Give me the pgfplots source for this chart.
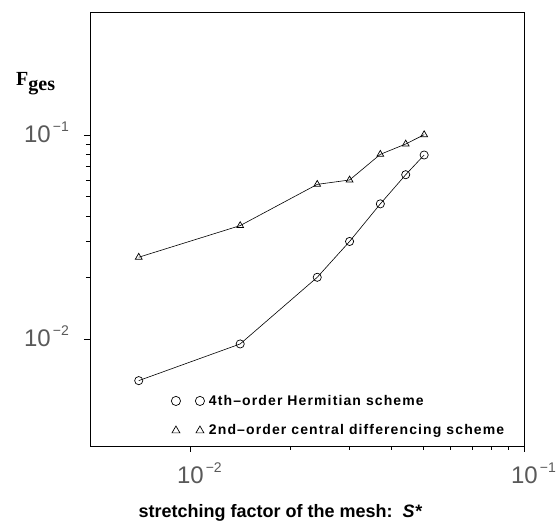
\documentclass[border=0pt]{standalone}
\usepackage{pgfplots}
\pgfplotsset{compat=1.18}
\usepackage{fontspec}
\setmainfont{Liberation Sans}
\newfontfamily\titleserif{Liberation Serif}
\newfontfamily\legendfont{Liberation Sans}[LetterSpace=8]

% light, large tick labels of the form 10^{-n}
\newcommand\tickfont{\fontsize{24}{24}\selectfont\color{black!65}}
\newcommand\expo[1]{\hspace{2pt}\raisebox{11pt}{\fontsize{14}{14}\selectfont −#1}}

\begin{document}
\begin{tikzpicture}
\begin{axis}[
  xmode=log, ymode=log,
  scale only axis, width=434pt, height=434pt,
  xmin=0.005, xmax=0.1, ymin=0.003, ymax=0.4,
  clip=false,
  axis line style={line width=0.9pt},
  tick align=outside, xtick pos=lower, ytick pos=left,
  major tick length=6pt, minor tick length=4pt,
  every tick/.style={black, line width=0.8pt},
  xtick={0.01,0.1}, ytick={0.01,0.1},
  xticklabels={{\mbox{\tickfont 10\rlap{\expo{2}}}},{\mbox{\tickfont\hspace*{1pt}10\rlap{\expo{1}}}}},
  yticklabels={{\mbox{\tickfont 10\expo{2}}},{\mbox{\tickfont 10\expo{1}}}},
  xticklabel style={anchor=base, inner sep=0pt, yshift=-32pt},
  yticklabel style={anchor=base east, inner sep=0pt, xshift=-15pt, yshift=-7.7pt},
  xlabel={\fontsize{18}{20}\selectfont\bfseries stretching factor of the mesh:\hspace{10pt}\textit{S*}},
  xlabel style={at={(axis description cs:0.439,0)}, anchor=base, yshift=-71pt, inner sep=0pt},
  legend style={at={(axis description cs:0.187,0.120)}, anchor=north west,
    draw=none, fill=none, inner sep=0pt, row sep=16pt,
    font=\legendfont\bfseries\fontsize{14}{16}\selectfont,
    nodes={inner sep=1pt},
    /tikz/every odd column/.style={column sep=3pt}},
  legend cell align=left,
  % two separate marks, no connecting line; an invisible box reserves the gap to the text
  legend image code/.code={%
    \path[draw=none, fill=none] (-4.6pt,-4.6pt) rectangle (29pt,4.6pt);
    \draw[#1, mark size=4.6pt] plot coordinates {(0pt,0pt)};
    \draw[#1, mark size=4.6pt] plot coordinates {(24pt,0pt)};},
]
\addplot[black, line width=0.6pt, mark=o, mark size=4.1pt, mark options={line width=0.7pt}]
  coordinates {(0.0070,0.00627) (0.0141,0.00948) (0.0240,0.0201) (0.0300,0.0301)
               (0.0371,0.0460) (0.0442,0.0639) (0.0502,0.0798)};
\addlegendentry{4th–order Hermitian scheme}
\addplot[black, line width=0.6pt, mark=triangle, mark size=3.9pt, mark options={line width=0.7pt}]
  coordinates {(0.0070,0.0252) (0.0141,0.0360) (0.0240,0.0573) (0.0300,0.0602)
               (0.0371,0.0804) (0.0442,0.0903) (0.0502,0.1003)};
\addlegendentry{2nd–order central differencing scheme}
\node[anchor=base west, inner sep=0pt] at (axis description cs:-0.1705,0.8295)
  {\titleserif\bfseries\fontsize{20}{20}\selectfont F\raisebox{-5pt}{ges}};
\end{axis}
\path ([shift={(-90pt,-76pt)}]current axis.south west) rectangle ([shift={(35pt,12pt)}]current axis.north east);
\end{tikzpicture}
\end{document}
